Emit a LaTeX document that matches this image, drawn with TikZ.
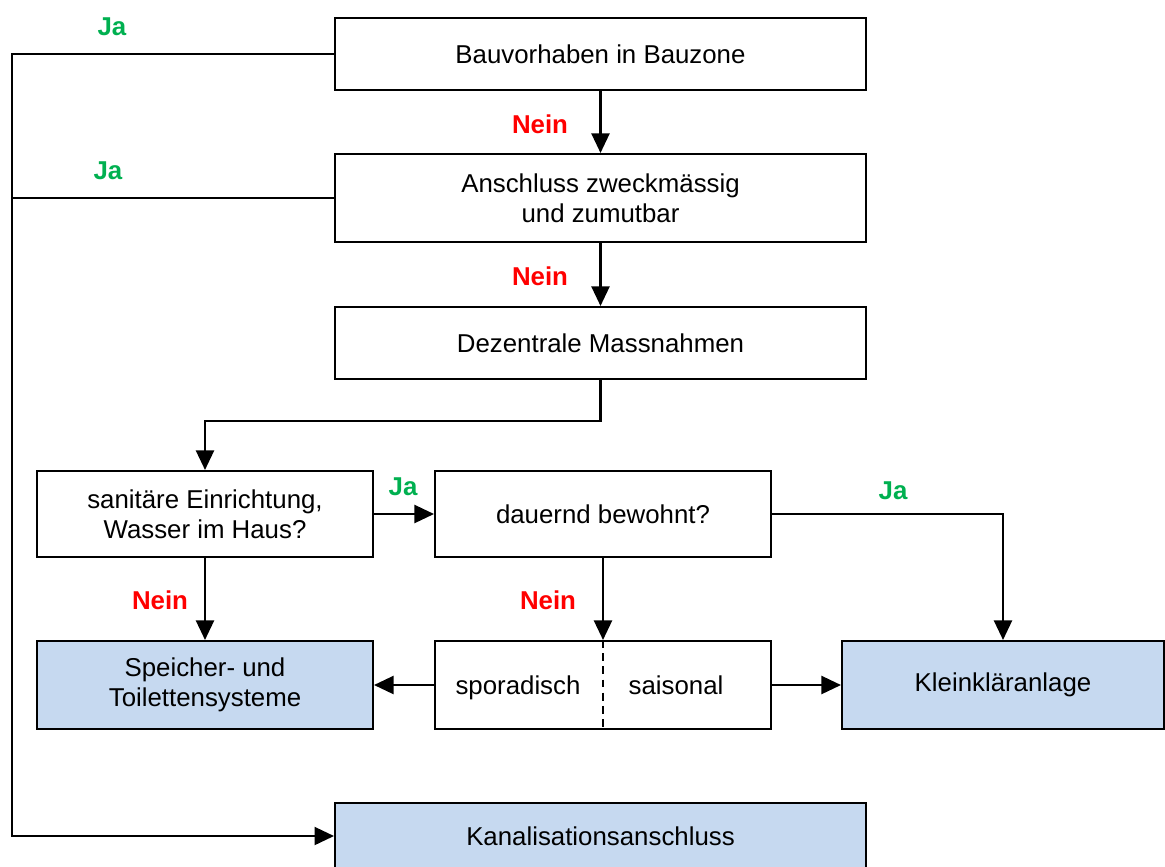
\documentclass[tikz,border=0pt]{standalone}
\usepackage{fontspec}
\setmainfont{Liberation Sans}
\usetikzlibrary{arrows.meta, positioning}
\definecolor{boxblue}{RGB}{198,217,240}
\definecolor{jagreen}{RGB}{0,176,80}
\definecolor{neinred}{RGB}{255,0,0}

\begin{document}
\begin{tikzpicture}[x=0.02cm, y=-0.02cm, >={Triangle[length=3.9mm,width=3.6mm]},
	line width=1.2pt, line join=miter,
	font=\fontsize{14.7}{17}\selectfont,
	box/.style={draw, rectangle, inner sep=0pt, align=center},
	endbox/.style={box, fill=boxblue},
	ja/.style={text=jagreen, font=\bfseries\fontsize{14.7}{17}\selectfont},
	nein/.style={text=neinred, font=\bfseries\fontsize{14.7}{17}\selectfont}]
		
		\useasboundingbox (0,0) rectangle (1165,866);
		\clip (0,0) rectangle (1165,866);
		
		%========================
		% main column
		%========================
		\node[box, minimum width=10.62cm, minimum height=1.44cm] (bauzone) at (600.5,54) {Bauvorhaben in Bauzone};
		\node[box, minimum width=10.62cm, minimum height=1.76cm] (anschluss) at (600.5,198) {Anschluss zweckmässig\\und zumutbar};
		\node[box, minimum width=10.62cm, minimum height=1.44cm] (dezentral) at (600.5,343) {Dezentrale Massnahmen};
		
		% questions
		\node[box, minimum width=6.72cm, minimum height=1.72cm] (sanitaer) at (205,514) {sanitäre Einrichtung,\\Wasser im Haus?};
		\node[box, minimum width=6.72cm, minimum height=1.72cm] (bewohnt) at (603,514) {dauernd bewohnt?};
		
		% results
		\node[endbox, minimum width=6.72cm, minimum height=1.76cm] (speicher) at (205,685) {Speicher- und\\Toilettensysteme};
		\node[box, minimum width=6.72cm, minimum height=1.76cm] (nutzung) at (603,685) {};
		\node[anchor=base] (sporadisch) at (518,694) {sporadisch};
		\node[anchor=base] (saisonal) at (676,694) {saisonal};
		\draw[dashed, dash pattern=on 4.5pt off 3pt] (nutzung.north) -- (nutzung.south);
		\node[endbox, minimum width=6.44cm, minimum height=1.76cm] (klein) at (1003,685) {Kleinkläranlage};
		\node[endbox, minimum width=10.62cm, minimum height=1.32cm] (kanal) at (600.5,836) {Kanalisationsanschluss};
		
		%========================
		% connectors
		%========================
		\draw[->] (bauzone) -- (anschluss);
		\draw[->] (anschluss) -- (dezentral);
		\draw[->] (dezentral.south) -- ++(0,41) -| (sanitaer.north);
		\draw[->] (sanitaer) -- (bewohnt);
		\draw[->] (sanitaer) -- (speicher);
		\draw[->] (bewohnt) -- (nutzung);
		\draw[->] (bewohnt.east) -| (klein.north);
		\draw[->] (nutzung) -- (speicher);
		\draw[->] (nutzung) -- (klein);
		
		% left return line
		\coordinate (leftbot) at (12,836);
		\draw[->] (bauzone.west) -| (leftbot) -- (kanal.west);
		\draw (anschluss.west) -- (anschluss.west -| leftbot);
		
		% labels
		\node[ja] (ja1) at (112,27) {Ja};
		\node[ja] (ja2) at (108,171) {Ja};
		\node[ja] (ja3) at (403,487) {Ja};
		\node[ja] (ja4) at (893,491) {Ja};
		\node[nein] (nein1) at (540,124) {Nein};
		\node[nein] (nein2) at (540,276) {Nein};
		\node[nein] (nein3) at (160,600) {Nein};
		\node[nein] (nein4) at (548,600) {Nein};
		
	\end{tikzpicture}
\end{document}
